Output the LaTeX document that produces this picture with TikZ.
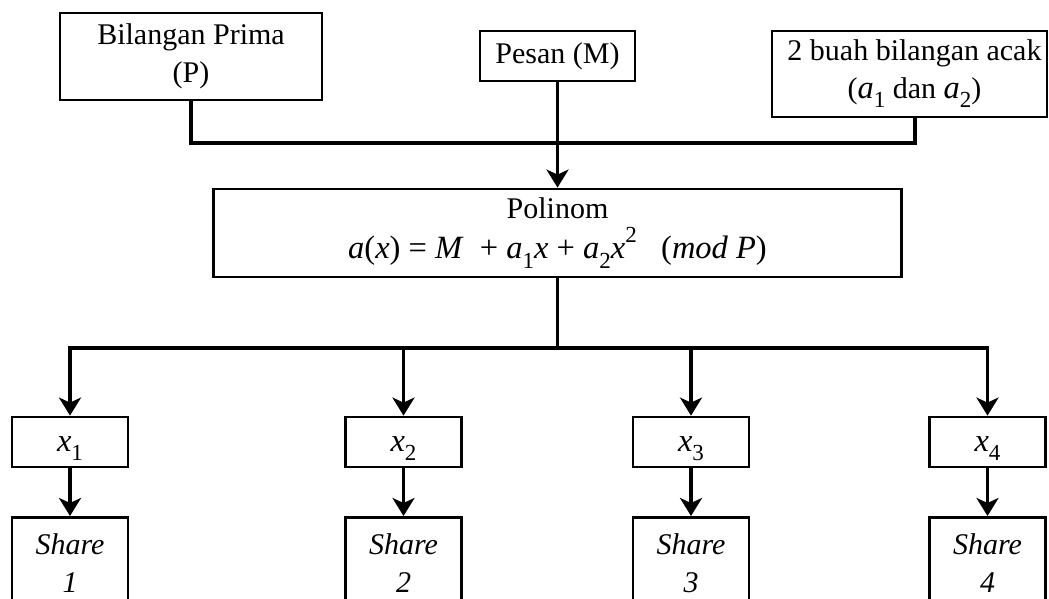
\RequirePackage{fix-cm}
\documentclass[tikz,border=0pt]{standalone}
\usepackage{fontspec}
\setmainfont{Liberation Serif}
\newfontfamily\boxfont{Liberation Serif}
\usetikzlibrary{arrows.meta,calc}

% italic letters for the formulas, set in the text face
\newcommand{\vr}[1]{\textit{#1}}
\newcommand{\sub}[1]{\raisebox{-0.3em}{\fontsize{23}{23}\selectfont #1}}
\newcommand{\supr}[1]{\raisebox{0.5em}{\fontsize{23}{23}\selectfont #1}}
\newcommand{\fml}{\fontsize{32.5}{38}\selectfont}

\begin{document}
\begin{tikzpicture}[x=1pt,y=-1pt,
  box/.style={draw, line width=2.8pt, inner sep=0pt, align=center,
    font=\boxfont\fontsize{30}{38}\selectfont},
  conn/.style={line width=3.8pt},
  arr/.style={conn, -{Stealth[length=18pt,width=22pt,inset=5pt]}}]

\useasboundingbox (0,0) rectangle (1049,598);
\clip (0,0) rectangle (1049,598);

% inputs
\node[box, minimum width=262pt, minimum height=87pt] (prima) at (191,56.5)
  {Bilangan Prima\\(P)};
\node[box, minimum width=155pt, minimum height=50pt] (pesan) at (557.5,56)
  {Pesan (M)};
\node[box, minimum width=275pt, minimum height=86pt] (acak) at (909.5,74)
  {\hspace*{10pt}2 buah bilangan acak\\\hspace*{10pt}({\fml\vr{a}}\sub{1} dan {\fml\vr{a}}\sub{2})};

% polynomial
\node[box, minimum width=688pt, minimum height=88pt] (poly) at (557.5,233)
  {Polinom\\[2pt]{\fml\vr{a}(\vr{x}) = \vr{M}\ \ + \vr{a}\sub{1}\vr{x} + \vr{a}\sub{2}\vr{x}\supr{2}\ \ \ (\vr{mod P})}};

% points x_i and shares
\foreach \i/\cx in {1/70, 2/403.5, 3/691, 4/987.5} {
  \node[box, minimum width=116pt, minimum height=50pt, text height=22pt, text depth=4pt]
    (x\i) at (\cx,442) {{\fml\vr{x}}\sub{\i}};
  \node[box, minimum width=116pt, minimum height=92pt, anchor=north] (s\i) at (\cx,516)
    {\textit{Share}\\\textit{\i}};
}

% collecting the inputs
\coordinate (busT) at (191,143);
\path (acak.south) ++(5.5,0) coordinate (acakout);
\draw[conn] (prima.south) -- (busT) -| (acakout);
\draw[arr] (pesan.south) -- (poly.north);

% distributing to the points
\coordinate (busB) at (557.5,348);
\draw[conn] (poly.south) -- (busB);
\draw[arr] (busB) -| (x1.north);
\draw[arr] (busB) -| (x4.north);
\draw[arr] (x2.north |- busB) -- (x2.north);
\draw[arr] (x3.north |- busB) -- (x3.north);

\foreach \i in {1,...,4}
  \draw[arr] (x\i.south) -- (s\i.north);

\end{tikzpicture}
\end{document}
